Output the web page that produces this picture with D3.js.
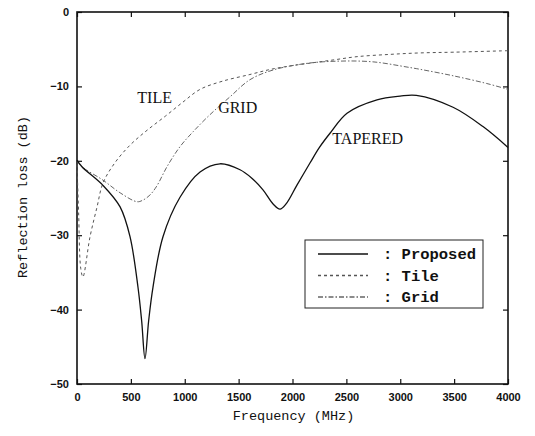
<!DOCTYPE html>
<html>
<head>
<meta charset="utf-8">
<script src="https://cdn.jsdelivr.net/npm/d3@7"></script>
<style>
  body { margin: 0; background: #fff; }
  .tick text { font-family: "Liberation Sans", Arial, sans-serif; font-weight: bold; font-size: 11px; fill: #111; }
  .label { font-family: "Liberation Mono", "DejaVu Sans Mono", monospace; font-size: 13.5px; fill: #111; }
  .curveLabel { font-family: "Liberation Serif", serif; font-size: 16px; fill: #111; }
  .legendText { font-family: "Liberation Mono", monospace; font-weight: bold; font-size: 15.5px; fill: #111; }
</style>
</head>
<body>
<div id="chart"></div>
<script>

// values: [frequency MHz, reflection loss dB]
var proposed = [[0,-19.9],[46,-20.8],[241,-23.3],[400,-26.2],[492,-30.2],[566,-37],[600,-41.5],[631,-46.6],
  [665,-41.5],[705,-37],[798,-30.2],[956,-24.9],[1142,-21.5],[1327,-20.4],[1513,-21.2],[1620,-22.3],
  [1726,-23.9],[1820,-25.8],[1884,-26.5],[1940,-25.8],[2040,-23.3],[2162,-20.3],[2250,-18.2],[2348,-16.3],
  [2506,-13.6],[2784,-11.8],[2998,-11.3],[3150,-11.2],[3490,-12.8],[3768,-15.4],[4000,-18.2]];

var tile = [[0,-20.5],[15,-27],[35,-34.5],[55,-35.6],[121,-30.2],[186,-26.2],[241,-23],[350,-20.3],
  [492,-17.9],[650,-15.9],[820,-14],[984,-12.1],[1142,-10.4],[1350,-9.3],[1605,-8.4],[1800,-7.7],
  [2000,-7.2],[2200,-6.8],[2400,-6.4],[2600,-6.0],[2900,-5.7],[3183,-5.5],[3500,-5.4],[4000,-5.2]];

var grid = [[0,-20],[46,-20.8],[241,-22.6],[400,-24.3],[557,-25.5],[610,-25.3],[677,-24.6],[740,-23.4],
  [835,-20.8],[956,-18.1],[1077,-16.1],[1234,-13.8],[1420,-11.4],[1605,-9.1],[1819,-7.8],[2135,-6.9],
  [2440,-6.6],[2747,-6.7],[3063,-7.4],[3183,-7.7],[3500,-8.6],[3800,-9.6],[4000,-10.4]];

var xTicks = [0,500,1000,1500,2000,2500,3000,3500,4000];
var yTicks = [0,-10,-20,-30,-40,-50];

var curveLabels = [{text:"TILE", f:560, v:-12.2}, {text:"GRID", f:1310, v:-13.6}, {text:"TAPERED", f:2370, v:-17.7}];
var legendItems = [{name:"Proposed", dash:null, color:"#111", w:1.3},
                   {name:"Tile", dash:"3,3", color:"#555", w:1},
                   {name:"Grid", dash:"5,2,1.5,2", color:"#666", w:1}];

var margin = {top: 12, right: 27, bottom: 52, left: 77},
    width = 535 - margin.left - margin.right,
    height = 436 - margin.top - margin.bottom;

var svg = d3.select("#chart")
  .append("svg")
    .attr("width", width + margin.left + margin.right)
    .attr("height", height + margin.top + margin.bottom)
  .append("g")
    .attr("transform", "translate(" + margin.left + "," + margin.top + ")");

var x = d3.scaleLinear().domain([0, 4000]).range([0, width]);
var y = d3.scaleLinear().domain([-50, 0]).range([height, 0]);

// axes with inward ticks on all four sides
svg.append("g")
  .attr("transform", "translate(0," + height + ")")
  .call(d3.axisBottom(x).tickValues(xTicks).tickFormat(d3.format("d")).tickSizeInner(-5).tickSizeOuter(0).tickPadding(9));
svg.append("g")
  .call(d3.axisLeft(y).tickValues(yTicks).tickSizeInner(-5).tickSizeOuter(0).tickPadding(8));
svg.append("g")
  .call(d3.axisTop(x).tickValues(xTicks).tickSizeInner(-5).tickSizeOuter(0).tickFormat(""));
svg.append("g")
  .attr("transform", "translate(" + width + ",0)")
  .call(d3.axisRight(y).tickValues(yTicks).tickSizeInner(-5).tickSizeOuter(0).tickFormat(""));
svg.selectAll(".domain").remove();
svg.selectAll(".tick line").attr("stroke", "#111").attr("stroke-width", 1.2);

svg.append("rect")
  .attr("width", width).attr("height", height)
  .attr("fill", "none").attr("stroke", "#111").attr("stroke-width", 1.6);

var line = d3.line()
  .x(function(d) { return x(d[0]); })
  .y(function(d) { return y(d[1]); })
  .curve(d3.curveCatmullRom.alpha(0.5));

var series = [tile, grid, proposed];
var styles = [legendItems[1], legendItems[2], legendItems[0]];
series.forEach(function(s, i) {
  svg.append("path")
    .datum(s)
    .attr("d", line)
    .attr("fill", "none")
    .attr("stroke", styles[i].color)
    .attr("stroke-width", styles[i].w)
    .attr("stroke-dasharray", styles[i].dash);
});

svg.append("g").selectAll("text")
  .data(curveLabels)
  .enter()
  .append("text")
    .classed("curveLabel", true)
    .attr("x", function(d) { return x(d.f); })
    .attr("y", function(d) { return y(d.v); })
    .text(function(d) { return d.text; });

// legend
var legend = svg.append("g")
  .attr("transform", "translate(" + (305 - margin.left) + "," + (240 - margin.top) + ")");
legend.append("rect")
  .attr("width", 178).attr("height", 68)
  .attr("fill", "#fff").attr("stroke", "#222").attr("stroke-width", 1);
legendItems.forEach(function(d, i) {
  var ly = 14 + i * 21.5;
  legend.append("line")
    .attr("x1", 13).attr("x2", 63).attr("y1", ly).attr("y2", ly)
    .attr("stroke", d.color).attr("stroke-width", d.w + 0.3)
    .attr("stroke-dasharray", d.dash);
  legend.append("text")
    .classed("legendText", true)
    .attr("x", 78).attr("y", ly + 5)
    .text(": " + d.name);
});

// axis titles
var labels = d3.select("#chart svg").append("g");
labels.append("text")
  .classed("label", true)
  .attr("text-anchor", "middle")
  .attr("x", margin.left + width / 2 + 1)
  .attr("y", 420)
  .text("Frequency (MHz)");
labels.append("g")
  .attr("transform", "translate(27," + (margin.top + 185) + ")")
  .append("text")
  .classed("label", true)
  .attr("text-anchor", "middle")
  .attr("transform", "rotate(-90)")
  .text("Reflection loss (dB)");

</script>
</body>
</html>
